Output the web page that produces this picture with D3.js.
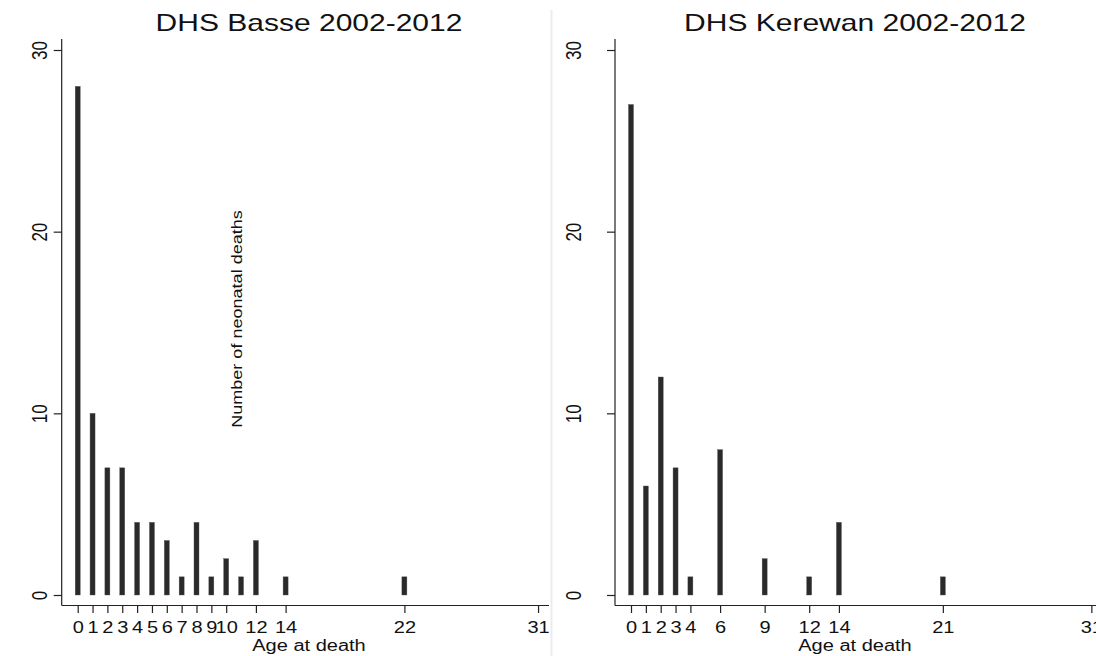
<!DOCTYPE html>
<html>

<head>
    <title>NeonatalDeaths</title>
    <script src="https://d3js.org/d3.v7.min.js"></script>
    <meta http-equiv="Content-Type" content="text/html; charset=utf-8">
    <style>
        body {
            margin: 0;
            background: #fff;
        }

        text {
            font-family: "Liberation Sans", Arial, sans-serif;
            fill: #111;
        }
    </style>
</head>

<body>
    <svg></svg>
    <script>
        // data
        const basseAges = [0, 1, 2, 3, 4, 5, 6, 7, 8, 9, 10, 11, 12, 14, 22];
        const basseDeaths = [28, 10, 7, 7, 4, 4, 3, 1, 4, 1, 2, 1, 3, 1, 1];
        const basseTicks = [0, 1, 2, 3, 4, 5, 6, 7, 8, 9, 10, 12, 14, 22, 31];

        const kerewanAges = [0, 1, 2, 3, 4, 6, 9, 12, 14, 21];
        const kerewanDeaths = [27, 6, 12, 7, 1, 8, 2, 1, 4, 1];
        const kerewanTicks = [0, 1, 2, 3, 4, 6, 9, 12, 14, 21, 31];

        const yTicks = [0, 10, 20, 30];
        const titles = ["DHS Basse 2002-2012", "DHS Kerewan 2002-2012"];
        const xTitle = "Age at death";
        const yTitle = "Number of neonatal deaths";

        const width = 1096;
        const height = 656;
        // the original picture is stretched sideways, so text is too
        const sx = 1.25;

        const svg = d3.select("svg")
            .attr("width", width)
            .attr("height", height);

        // shared y scale
        const yScale = d3.scaleLinear()
            .domain([0, 30])
            .range([595, 50]);

        // light separator between the two graphs
        svg.append("line")
            .attr("x1", 551.5).attr("x2", 551.5)
            .attr("y1", 10).attr("y2", height)
            .attr("stroke", "#ececec")
            .attr("stroke-width", 2);

        const panels = [
            { ages: basseAges, deaths: basseDeaths, ticks: basseTicks, title: titles[0],
              axisX: 61.7, x0: 77.7, lineEnd: 549, labelOff: -22, center: 309, yTitle: true },
            { ages: kerewanAges, deaths: kerewanDeaths, ticks: kerewanTicks, title: titles[1],
              axisX: 615, x0: 631, lineEnd: 1096, labelOff: -41, center: 855, yTitle: false }
        ];

        panels.forEach(function(p) {
            const g = svg.append("g");

            const xScale = d3.scaleLinear()
                .domain([0, 31])
                .range([p.x0, p.x0 + 31 * 14.85]);

            // title
            g.append("text")
                .attr("transform", "translate(" + p.center + ",30.5) scale(" + sx + ",1)")
                .attr("text-anchor", "middle")
                .style("font-size", "24px")
                .text(p.title);

            // bars
            g.selectAll(".bar")
                .data(p.ages.map((a, i) => ({ age: a, n: p.deaths[i] })))
                .enter()
                .append("rect")
                .attr("class", "bar")
                .attr("x", d => xScale(d.age) - 2.5)
                .attr("y", d => yScale(d.n))
                .attr("width", 5)
                .attr("height", d => yScale(0) - yScale(d.n))
                .attr("fill", "#2a2a2a")
                .attr("stroke", "#555")
                .attr("stroke-width", 0.4);

            // axis lines
            g.append("line")
                .attr("x1", p.axisX).attr("x2", p.axisX)
                .attr("y1", 39).attr("y2", 605.5)
                .attr("stroke", "#222").attr("stroke-width", 1.2);
            g.append("line")
                .attr("x1", p.axisX).attr("x2", p.lineEnd)
                .attr("y1", 605.5).attr("y2", 605.5)
                .attr("stroke", "#222").attr("stroke-width", 1.2);

            // x axis ticks and labels
            const xAxis = g.append("g")
                .attr("transform", "translate(0,606)")
                .call(d3.axisBottom(xScale).tickValues(p.ticks).tickFormat(d3.format("d"))
                    .tickSize(7).tickSizeOuter(0));
            xAxis.select(".domain").remove();
            xAxis.selectAll(".tick line").attr("stroke", "#222").attr("stroke-width", 1.2);
            xAxis.selectAll(".tick text")
                .attr("x", null).attr("y", null).attr("dy", null)
                .attr("transform", "translate(0,27) scale(" + sx + ",1)")
                .style("font-size", "16px")
                .attr("fill", "#111");

            // y axis ticks and rotated labels
            const yAxis = g.append("g")
                .attr("transform", "translate(" + p.axisX + ",0)")
                .call(d3.axisLeft(yScale).tickValues(yTicks).tickSize(8).tickSizeOuter(0));
            yAxis.select(".domain").remove();
            yAxis.selectAll(".tick line").attr("stroke", "#222").attr("stroke-width", 1.2);
            yAxis.selectAll(".tick text")
                .attr("x", null).attr("dy", "0.35em")
                .attr("text-anchor", "middle")
                .attr("transform", "translate(" + p.labelOff + ",0) scale(" + sx + ",1) rotate(-90)")
                .style("font-size", "17px")
                .attr("fill", "#111");

            // x axis title
            g.append("text")
                .attr("transform", "translate(" + p.center + ",651) scale(" + sx + ",1)")
                .attr("text-anchor", "middle")
                .style("font-size", "16px")
                .text(xTitle);

            // y title sits inside the first plot in the original
            if (p.yTitle) {
                g.append("text")
                    .attr("transform", "translate(237,319) scale(1,1.29) rotate(-90)")
                    .attr("text-anchor", "middle")
                    .attr("dy", "0.35em")
                    .style("font-size", "14px")
                    .text(yTitle);
            }
        });
    </script>
</body>

</html>
